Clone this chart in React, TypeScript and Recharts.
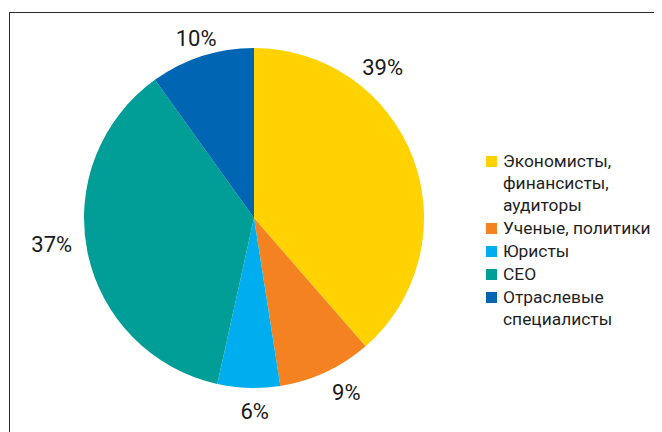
import React from "react";
import { PieChart, Pie, Cell, Legend } from "recharts";

const categories = [
  "Экономисты, финансисты, аудиторы",
  "Ученые, политики",
  "Юристы",
  "СЕО",
  "Отраслевые специалисты",
];
const shares = [39, 9, 6, 37, 10];
const colors = ["#FFD200", "#F58220", "#00AEEF", "#009E96", "#0065B3"];

const data = categories.map((name, i) => ({ name, value: shares[i] }));

const RAD = Math.PI / 180;
const FONT = "Roboto, 'Open Sans', sans-serif";

// label placement tweaks (angle shift in degrees, radial offset beyond the rim)
const labelAngleShift = [29, 3, 2, -4, 0];
const labelRadialOffset = [28, 27, 24, 34, 19];

const renderLabel = (props: any) => {
  const { cx, cy, midAngle, outerRadius, index, value } = props;
  const a = midAngle + labelAngleShift[index];
  const r = outerRadius + labelRadialOffset[index];
  const x = cx + r * Math.cos(-a * RAD);
  const y = cy + r * Math.sin(-a * RAD);
  return (
    <text
      x={x}
      y={y}
      textAnchor="middle"
      dominantBaseline="central"
      fontSize={22}
      fontFamily={FONT}
      fill="#1a1a1a"
    >
      {value}%
    </text>
  );
};

const renderLegend = () => (
  <div style={{ width: 170, fontFamily: FONT, fontSize: 17.4, color: "#1f1f1f" }}>
    {categories.map((c, i) => (
      <div key={c} style={{ display: "flex", alignItems: "flex-start", marginBottom: 1, lineHeight: "22px" }}>
        <span
          style={{
            display: "inline-block",
            width: 11,
            height: 11,
            background: colors[i],
            marginTop: 6,
            marginRight: 6,
            flexShrink: 0,
          }}
        />
        <span>{c}</span>
      </div>
    ))}
  </div>
);

export default function App() {
  return (
    <div style={{ position: "relative", width: 654, height: 424, overflow: "hidden", background: "#fff" }}>
      <div
        style={{
          position: "absolute",
          left: 1,
          top: 4,
          width: 800,
          height: 600,
          border: "1.5px solid #2a2a2a",
          boxSizing: "border-box",
        }}
      />
      <div style={{ position: "absolute", left: 0, top: 0 }}>
        <PieChart width={654} height={424} margin={{ top: 0, right: 0, bottom: 0, left: 0 }}>
          <Pie
            data={data}
            dataKey="value"
            nameKey="name"
            cx={246}
            cy={210}
            outerRadius={170}
            startAngle={90}
            endAngle={-270}
            stroke="none"
            label={renderLabel}
            labelLine={false}
            isAnimationActive={false}
          >
            {data.map((d, i) => (
              <Cell key={d.name} fill={colors[i]} />
            ))}
          </Pie>
          <Legend
            content={renderLegend}
            wrapperStyle={{ left: 478, top: 142, width: 176 }}
          />
        </PieChart>
      </div>
    </div>
  );
}
